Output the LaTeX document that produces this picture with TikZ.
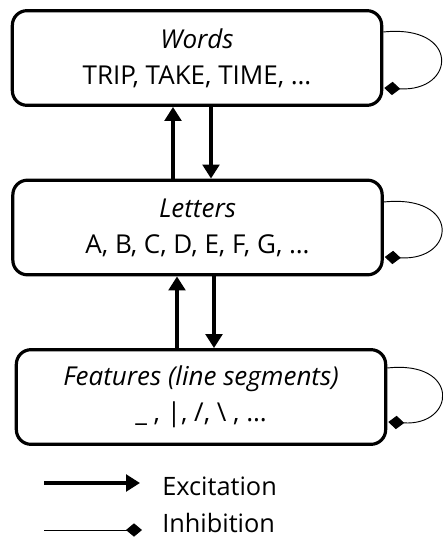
\documentclass[tikz,border=0pt]{standalone}
\usepackage{fontspec}
\setmainfont{Open Sans}
\usetikzlibrary{arrows.meta,calc}

\begin{document}
\begin{tikzpicture}[x=0.75pt,y=-0.75pt,
    layerbox/.style={draw,line width=2.4pt,rounded corners=11pt,minimum width=277pt,minimum height=71pt,align=center,font=\fontsize{19.5}{27}\selectfont},
    excite/.style={line width=2.5pt,-{Triangle[length=10.5pt,width=12.5pt]}},
    inhib/.style={line width=0.7pt,-{Diamond[length=12pt,width=10pt]}},
    legend/.style={anchor=base west,inner sep=0pt,font=\fontsize{19}{22}\selectfont}]
                \useasboundingbox (0,0) rectangle (442,538);
                \node [layerbox] (words) at (197,58) {\textit{Words}\\TRIP, TAKE, TIME, …};
                \node [layerbox] (letters) at (197.5,227.5) {\textit{Letters}\\A, B, C, D, E, F, G, …};
                \node [layerbox] (features) at (201,397) {\textit{Features (line segments)}\\\_ , |, /, \textbackslash\ , …};
                % bottom-up and top-down
                \draw [excite] ($(letters.north)+(-24.5,0)$) -- ($(words.south)+(-24,0)$);
                \draw [excite] ($(words.south)+(14,0)$) -- ($(letters.north)+(13.5,0)$);
                \draw [excite] ($(features.north)+(-24,0)$) -- ($(letters.south)+(-20.5,0)$);
                \draw [excite] ($(letters.south)+(16.5,0)$) -- ($(features.north)+(13,0)$);
                % lateral inhibition
                \draw [inhib] ($(words.east)+(0,-26)$) .. controls +(77,-8) and +(72,4) .. ($(words.east)+(1,30)$);
                \draw [inhib] ($(letters.east)+(0,-25.5)$) .. controls +(77,-8) and +(72,4) .. ($(letters.east)+(1,29.5)$);
                \draw [inhib] ($(features.east)+(0,-29)$) .. controls +(73,-8) and +(68,4) .. ($(features.east)+(1,25)$);
                % legend
                \coordinate (exca) at (44,483);
                \coordinate (excb) at (140,483);
                \coordinate (inha) at (44,530);
                \coordinate (inhb) at (142,530);
                \draw [excite] (exca) -- (excb);
                \draw [inhib] (inha) -- (inhb);
                \node [legend] (exc) at (162,495) {Excitation};
                \node [legend] (inh) at (162,532) {Inhibition};
            \end{tikzpicture}
\end{document}
